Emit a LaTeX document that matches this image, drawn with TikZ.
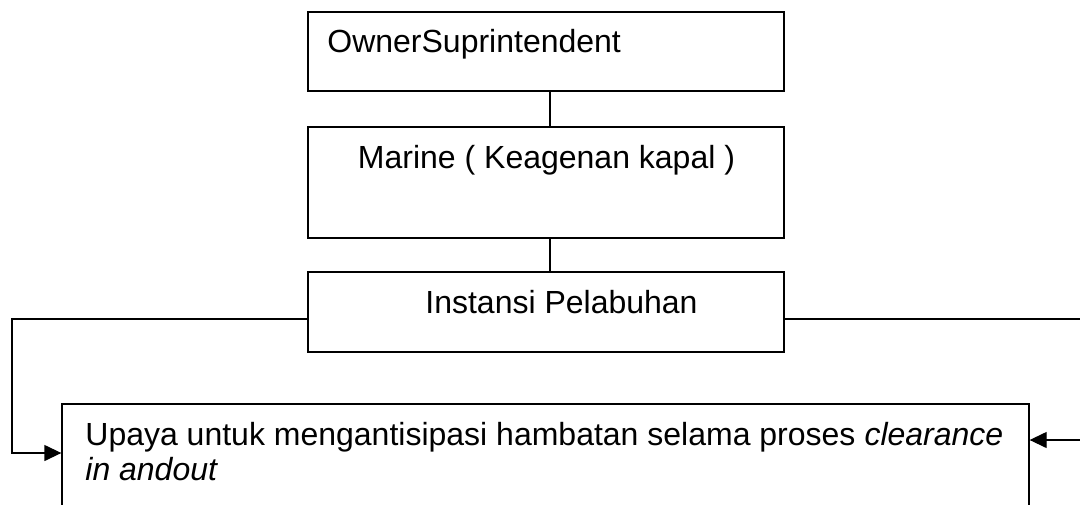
\documentclass[tikz,border=0pt]{standalone}
\usepackage{fontspec}
\setmainfont{Liberation Sans}
\usetikzlibrary{arrows.meta}
\begin{document}
\begin{tikzpicture}[x=0.5pt,y=-0.5pt,
  box/.style={draw=black, line width=0.65pt, rectangle, inner sep=0pt},
  label/.style={inner sep=0pt, font=\fontsize{16}{17.5}\selectfont},
  wire/.style={draw=black, line width=0.65pt},
  tip/.style={-{Triangle[length=8.5pt,width=8pt]}}]
\useasboundingbox (0,0) rectangle (1080,504);
\fill[white] (0,0) rectangle (1080,504);
\clip (0,0) rectangle (1080,504);

% chain of boxes
\node[box, minimum width=238pt, minimum height=39.5pt] (b1) at (546,51.5) {};
\node[box, minimum width=238pt, minimum height=55.5pt] (b2) at (546,182.5) {};
\node[box, minimum width=238pt, minimum height=40pt] (b3) at (546,312) {};
\node[box, minimum width=483.5pt, minimum height=63pt] (b4) at (545.5,467) {};

% box texts
\node[label, anchor=base west] (t1) at (327,52) {OwnerSuprintendent};
\node[label, anchor=base] (t2) at (546.5,168) {Marine ( Keagenan kapal )};
\node[label, anchor=base] (t3) at (561.5,313) {Instansi Pelabuhan};
\node[label, anchor=base west] (t4) at (85,445) {Upaya untuk mengantisipasi hambatan selama proses \textit{clearance}};
\node[label, anchor=base west] (t5) at (85,480) {\textit{in andout}};

% vertical links
\draw[wire] ([xshift=2pt]b1.south) -- ([xshift=2pt]b2.north);
\draw[wire] ([xshift=2pt]b2.south) -- ([xshift=2pt]b3.north);

% side routes into the bottom box
\coordinate (lc) at (12,319);
\coordinate (le) at (12,453);
\coordinate (rc) at (1095,319);
\coordinate (re) at (1095,440);
\draw[wire, tip] (b3.west |- lc) -- (lc) -- (le) -- (b4.west |- le);
\draw[wire, tip] (b3.east |- rc) -- (rc) -- (re) -- (b4.east |- re);
\end{tikzpicture}
\end{document}
